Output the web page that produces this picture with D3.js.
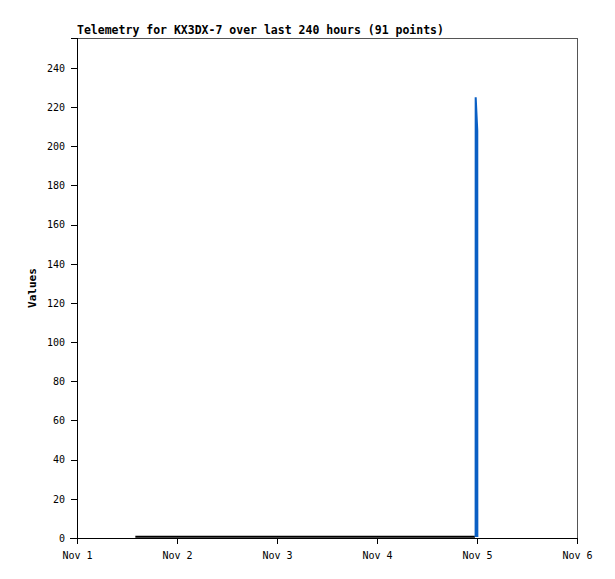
<!DOCTYPE html>
<html>
<head>
<meta charset="utf-8">
<script src="https://cdn.jsdelivr.net/npm/d3@7"></script>
<style>
body { margin: 0; background: #fff; }
svg text { font-family: "DejaVu Sans Mono", "Liberation Mono", monospace; }
</style>
</head>
<body>
<div id="chart"></div>
<script>
// readings, black series (near zero)
var blackTimes = ["2023-11-01T14:00Z", "2023-11-01T20:00Z", "2023-11-02T02:00Z", "2023-11-02T08:00Z",
	"2023-11-02T14:00Z", "2023-11-02T20:00Z", "2023-11-03T02:00Z", "2023-11-03T08:00Z",
	"2023-11-03T14:00Z", "2023-11-03T20:00Z", "2023-11-04T02:00Z", "2023-11-04T08:00Z",
	"2023-11-04T14:00Z", "2023-11-04T20:00Z", "2023-11-04T23:30Z"];
var blackValues = [0.6, 0.6, 0.7, 0.6, 0.6, 0.7, 0.6, 0.6, 0.7, 0.6, 0.6, 0.7, 0.6, 0.6, 0.6];

// readings, blue series (spike)
var blueTimes = ["2023-11-04T23:40Z", "2023-11-04T23:41Z", "2023-11-05T00:04Z", "2023-11-05T00:05Z"];
var blueValues = [0.5, 225, 208, 0.5];

var yTicks = [0, 20, 40, 60, 80, 100, 120, 140, 160, 180, 200, 220, 240];
var xDomain = ["2023-11-01T00:00Z", "2023-11-06T00:00Z"];
var title = "Telemetry for KX3DX-7 over last 240 hours (91 points)";

var width = 615, height = 579;
var marginLeft = 77, marginTop = 38;
var plotW = 500, plotH = 500;

var svg = d3.select("#chart").append("svg")
	.attr("width", width)
	.attr("height", height);

var g = svg.append("g")
	.attr("transform", "translate(" + marginLeft + "," + marginTop + ")");

var x = d3.scaleUtc().domain(xDomain.map(function(d) { return new Date(d); })).range([0, plotW]);
var y = d3.scaleLinear().domain([0, 255.3]).range([plotH, 0]);

// frame top/right
g.append("path")
	.attr("d", "M0,0H" + plotW + "V" + plotH)
	.attr("fill", "none")
	.attr("stroke", "#555")
	.attr("shape-rendering", "crispEdges");

var line = d3.line()
	.x(function(d) { return x(d.t); })
	.y(function(d) { return y(d.v); });

var black = blackTimes.map(function(t, i) { return {t: new Date(t), v: blackValues[i]}; });
var blue = blueTimes.map(function(t, i) { return {t: new Date(t), v: blueValues[i]}; });

g.append("path").datum(black)
	.attr("d", line)
	.attr("fill", "none")
	.attr("stroke", "#000")
	.attr("stroke-width", 2);

g.append("path").datum(blue)
	.attr("d", line)
	.attr("fill", "none")
	.attr("stroke", "#0a5fc4")
	.attr("stroke-width", 2)
	.attr("stroke-linejoin", "miter")
	.attr("stroke-miterlimit", 1);

// axes
var yAxis = g.append("g")
	.call(d3.axisLeft(y).tickValues(yTicks).tickSize(6).tickPadding(6));
var xAxis = g.append("g")
	.attr("transform", "translate(0," + plotH + ")")
	.call(d3.axisBottom(x).ticks(d3.utcDay.every(1)).tickFormat(d3.utcFormat("%b %-d")).tickSize(6).tickPadding(8));

[yAxis, xAxis].forEach(function(a) {
	a.select(".domain").attr("stroke", "#000").attr("shape-rendering", "crispEdges");
	a.selectAll(".tick line").attr("stroke", "#000").attr("shape-rendering", "crispEdges");
	a.selectAll("text").attr("fill", "#000").style("font-size", "10px")
		.style("font-family", "'DejaVu Sans Mono', monospace");
});
xAxis.select(".domain").attr("d", "M-7,0H" + plotW);

svg.append("text")
	.attr("x", marginLeft)
	.attr("y", 34)
	.style("font-size", "11.5px")
	.style("font-weight", "bold")
	.text(title);

svg.append("text")
	.attr("transform", "translate(36," + (marginTop + plotH / 2) + ") rotate(-90)")
	.attr("text-anchor", "middle")
	.style("font-size", "11px")
	.style("font-weight", "bold")
	.text("Values");
</script>
</body>
</html>
